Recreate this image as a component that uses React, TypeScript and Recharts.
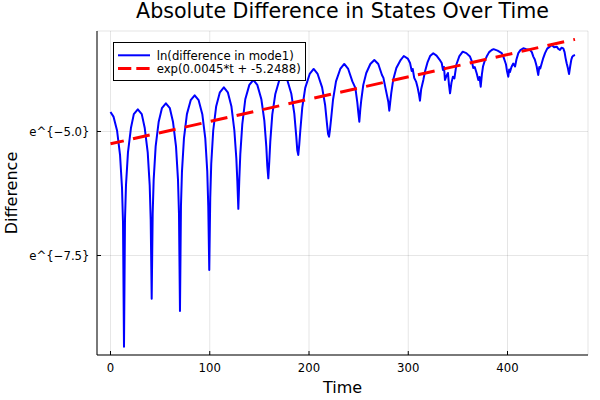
import React from 'react';
import { LineChart, Line, XAxis, YAxis, CartesianGrid, Legend, Customized } from 'recharts';

const FONT = 'DejaVu Sans';

const titleText = 'Absolute Difference in States Over Time';
const xLabelText = 'Time';
const yLabelText = 'Difference';
const seriesNames = ['ln(difference in mode1)', 'exp(0.0045*t + -5.2488)'];

const xTicks = [0, 100, 200, 300, 400];
const yTicks = [-7.5, -5.0];
const yTickLabels = ['e^{\u22127.5}', 'e^{\u22125.0}'];

const timeBlue = [
  0, 3, 6.6, 9.6, 11.6, 12.6, 13.6,
  14.6, 15.6, 17.6, 20.6, 23.5, 27.5, 31.5, 34.5, 37.5, 39.5, 40.5, 41.5,
  42.5, 43.5, 45.5, 48.5, 51.8, 55.8, 59.8, 63, 66, 68, 69, 70,
  71, 72, 74, 77, 80.8, 84.8, 88.8, 92.5, 95.5, 97.5, 98.5, 99.5,
  100.5, 101.5, 103.5, 106.5, 110.2, 114.2, 118.2, 121.8, 124.8, 126.8, 127.8, 128.8,
  129.8, 130.8, 132.8, 135.8, 139.9, 143.9, 147.9, 152, 155, 157, 158, 159,
  160, 161, 163, 166, 170.1, 174.1, 178.1, 182.2, 185.2, 187.2, 188.2, 189.2,
  190.2, 191.2, 193.2, 196.2, 200.7, 204.7, 208.7, 213.2, 216.2, 218.2, 219.2, 220.2,
  221.2, 222.2, 224.2, 227.2, 231.5, 235.5, 239.5, 243.7, 246.7, 248.7, 249.7, 250.7,
  251.7, 252.7, 254.7, 257.7, 261.8, 265.8, 269.8, 272.5, 273.5, 275, 277, 279.9, 280.9,
  281.9, 282.9, 284.9, 288, 292.3, 295.5, 299.5, 301.8, 303.5, 304.5, 306, 308, 309.5, 310.8, 311.8,
  313, 315.2, 317, 319.5, 322, 325.2, 328.5, 331.5, 333.7, 335, 336, 337, 338.5, 340, 341, 342.1,
  343.5, 345, 346.5, 348.5, 351.5, 354.9, 358.5, 362.2, 364, 365.5, 367, 369, 370.6, 371.8, 373,
  374.2, 375.3, 377, 379, 381.5, 384.1, 386, 390, 394.2, 396, 397.5, 398.5, 399.5, 400.8,
  401.7, 402.5, 404, 405.8, 407.6, 409, 410.9, 413, 415.9, 419, 422.7, 424.5, 426, 427.5, 428.5,
  429.4, 430.2, 431, 432, 433, 434.5, 436, 437.8, 440, 442, 444.5, 447, 449.6, 451, 452.9,
  454.5, 456.2, 457.5, 458.5, 459.6, 460.8, 462, 463.2, 464.3, 465.3, 466.5, 468,
];

const valueBlue = [
  -4.607, -4.70, -4.98, -5.47, -6.14, -6.83, -9.34,
  -6.78, -6.09, -5.42, -4.93, -4.65, -4.552, -4.65, -4.93, -5.42, -6.09, -6.78, -8.37,
  -6.66, -5.97, -5.30, -4.81, -4.53, -4.431, -4.53, -4.81, -5.30, -5.97, -6.66, -8.62,
  -6.50, -5.81, -5.14, -4.65, -4.37, -4.270, -4.37, -4.65, -5.14, -5.81, -6.50, -7.79,
  -6.34, -5.65, -4.98, -4.49, -4.21, -4.109, -4.21, -4.49, -4.98, -5.55, -6.00, -6.56,
  -5.95, -5.45, -4.85, -4.35, -4.06, -3.962, -4.06, -4.35, -4.78, -5.31, -5.70, -5.944,
  -5.60, -5.20, -4.66, -4.25, -3.96, -3.86, -3.96, -4.24, -4.64, -5.11, -5.38, -5.474,
  -5.26, -4.99, -4.52, -4.12, -3.84, -3.740, -3.84, -4.11, -4.46, -4.86, -5.05, -5.105,
  -4.95, -4.76, -4.36, -3.99, -3.74, -3.639, -3.74, -3.99, -4.12, -4.42, -4.62, -4.802,
  -4.55, -4.36, -4.06, -3.82, -3.64, -3.558, -3.64, -3.80, -3.86, -3.92, -4.12, -4.40, -4.581,
  -4.40, -4.22, -3.95, -3.72, -3.56, -3.478, -3.53, -3.62, -3.78, -3.74, -3.92, -4.00, -4.12, -4.25, -4.379,
  -4.15, -3.96, -3.78, -3.60, -3.48, -3.423, -3.47, -3.55, -3.62, -3.76, -3.70, -3.96, -3.88, -3.82, -4.05, -4.23,
  -4.02, -3.895, -3.93, -3.65, -3.48, -3.391, -3.42, -3.49, -3.58, -3.72, -3.70, -3.83, -3.96, -3.90, -4.097,
  -3.85, -3.69, -3.58, -3.49, -3.40, -3.357, -3.34, -3.37, -3.42, -3.50, -3.59, -3.65, -3.78, -3.895,
  -3.75, -3.80, -3.70, -3.63, -3.69, -3.55, -3.42, -3.36, -3.323, -3.34, -3.357, -3.40, -3.49, -3.55, -3.62,
  -3.69, -3.78, -3.861, -3.70, -3.73, -3.625, -3.52, -3.42, -3.33, -3.30, -3.256, -3.30, -3.29, -3.33, -3.357,
  -3.31, -3.323, -3.40, -3.52, -3.625, -3.72, -3.841, -3.68, -3.55, -3.492, -3.47, -3.458,
];

const timeFit = [0, 468];
const valueFit = [-5.2488, -3.1428];

const blueData = timeBlue.map((t, i) => ({ t, v: valueBlue[i] }));
const fitData = timeFit.map((t, i) => ({ t, v: valueFit[i] }));

const Title = () => (
  <text x={342.5} y={18.3} textAnchor="middle" fontFamily={FONT} fontSize={20.6} fill="#000">
    {titleText}
  </text>
);

const XTitle = () => (
  <text x={342.5} y={392.5} textAnchor="middle" fontFamily={FONT} fontSize={16} fill="#000">
    {xLabelText}
  </text>
);

const YTitle = () => (
  <text
    x={16.5}
    y={193}
    transform="rotate(-90 16.5 193)"
    textAnchor="middle"
    fontFamily={FONT}
    fontSize={16}
    fill="#000"
  >
    {yLabelText}
  </text>
);

const LegendBox = () => (
  <svg width={193} height={39} style={{ display: 'block' }}>
    <rect x={0.5} y={0.5} width={192} height={38} fill="#fff" stroke="#000" strokeWidth={1} />
    <line x1={5} x2={37} y1={13.3} y2={13.3} stroke="#0000ff" strokeWidth={2} />
    <text x={43.7} y={17.5} fontFamily={FONT} fontSize={11.7} fill="#000">
      {seriesNames[0]}
    </text>
    <line x1={5} x2={37} y1={26.6} y2={26.6} stroke="#ff0000" strokeWidth={3} strokeDasharray="13.3 5" />
    <text x={43.7} y={30.8} fontFamily={FONT} fontSize={11.7} fill="#000">
      {seriesNames[1]}
    </text>
  </svg>
);

export default function App() {
  const tickStyle = { fill: '#000', fontSize: 11.7, fontFamily: FONT };
  return (
    <div style={{ position: 'absolute', left: 0, top: 0, width: 600, height: 400, background: '#fff' }}>
      <LineChart width={600} height={400} margin={{ top: 31, right: 12, bottom: 0, left: 0 }}>
        <CartesianGrid stroke="#000" strokeOpacity={0.1} strokeWidth={1} />
        <XAxis
          type="number"
          dataKey="t"
          domain={[-13.6, 481.1]}
          ticks={xTicks}
          height={45}
          allowDataOverflow
          tickSize={-4}
          tickMargin={12.4}
          axisLine={{ stroke: '#000', strokeWidth: 1 }}
          tickLine={{ stroke: '#000', strokeWidth: 1 }}
          tick={tickStyle}
          label={<XTitle />}
        />
        <YAxis
          type="number"
          domain={[-9.506, -2.974]}
          ticks={yTicks}
          width={97}
          allowDataOverflow
          tickSize={-4}
          tickMargin={11.5}
          axisLine={{ stroke: '#000', strokeWidth: 1 }}
          tickLine={{ stroke: '#000', strokeWidth: 1 }}
          tick={tickStyle}
          tickFormatter={(v: number) => {
            const i = yTicks.indexOf(v);
            return i >= 0 ? yTickLabels[i] : '';
          }}
          label={<YTitle />}
        />
        <Line
          data={blueData}
          dataKey="v"
          type="linear"
          name={seriesNames[0]}
          stroke="#0000ff"
          strokeWidth={2}
          strokeLinejoin="round"
          dot={false}
          activeDot={false}
          isAnimationActive={false}
        />
        <Line
          data={fitData}
          dataKey="v"
          type="linear"
          name={seriesNames[1]}
          stroke="#ff0000"
          strokeWidth={3}
          strokeDasharray="17.1 9.45"
          strokeDashoffset={3.5}
          dot={false}
          activeDot={false}
          isAnimationActive={false}
        />
        <Legend
          verticalAlign="middle"
          layout="horizontal"
          content={() => <LegendBox />}
          wrapperStyle={{ position: 'absolute', left: 113, top: 42, width: 193, height: 39, margin: 0, padding: 0 }}
        />
        <Customized component={<Title />} />
      </LineChart>
    </div>
  );
}
